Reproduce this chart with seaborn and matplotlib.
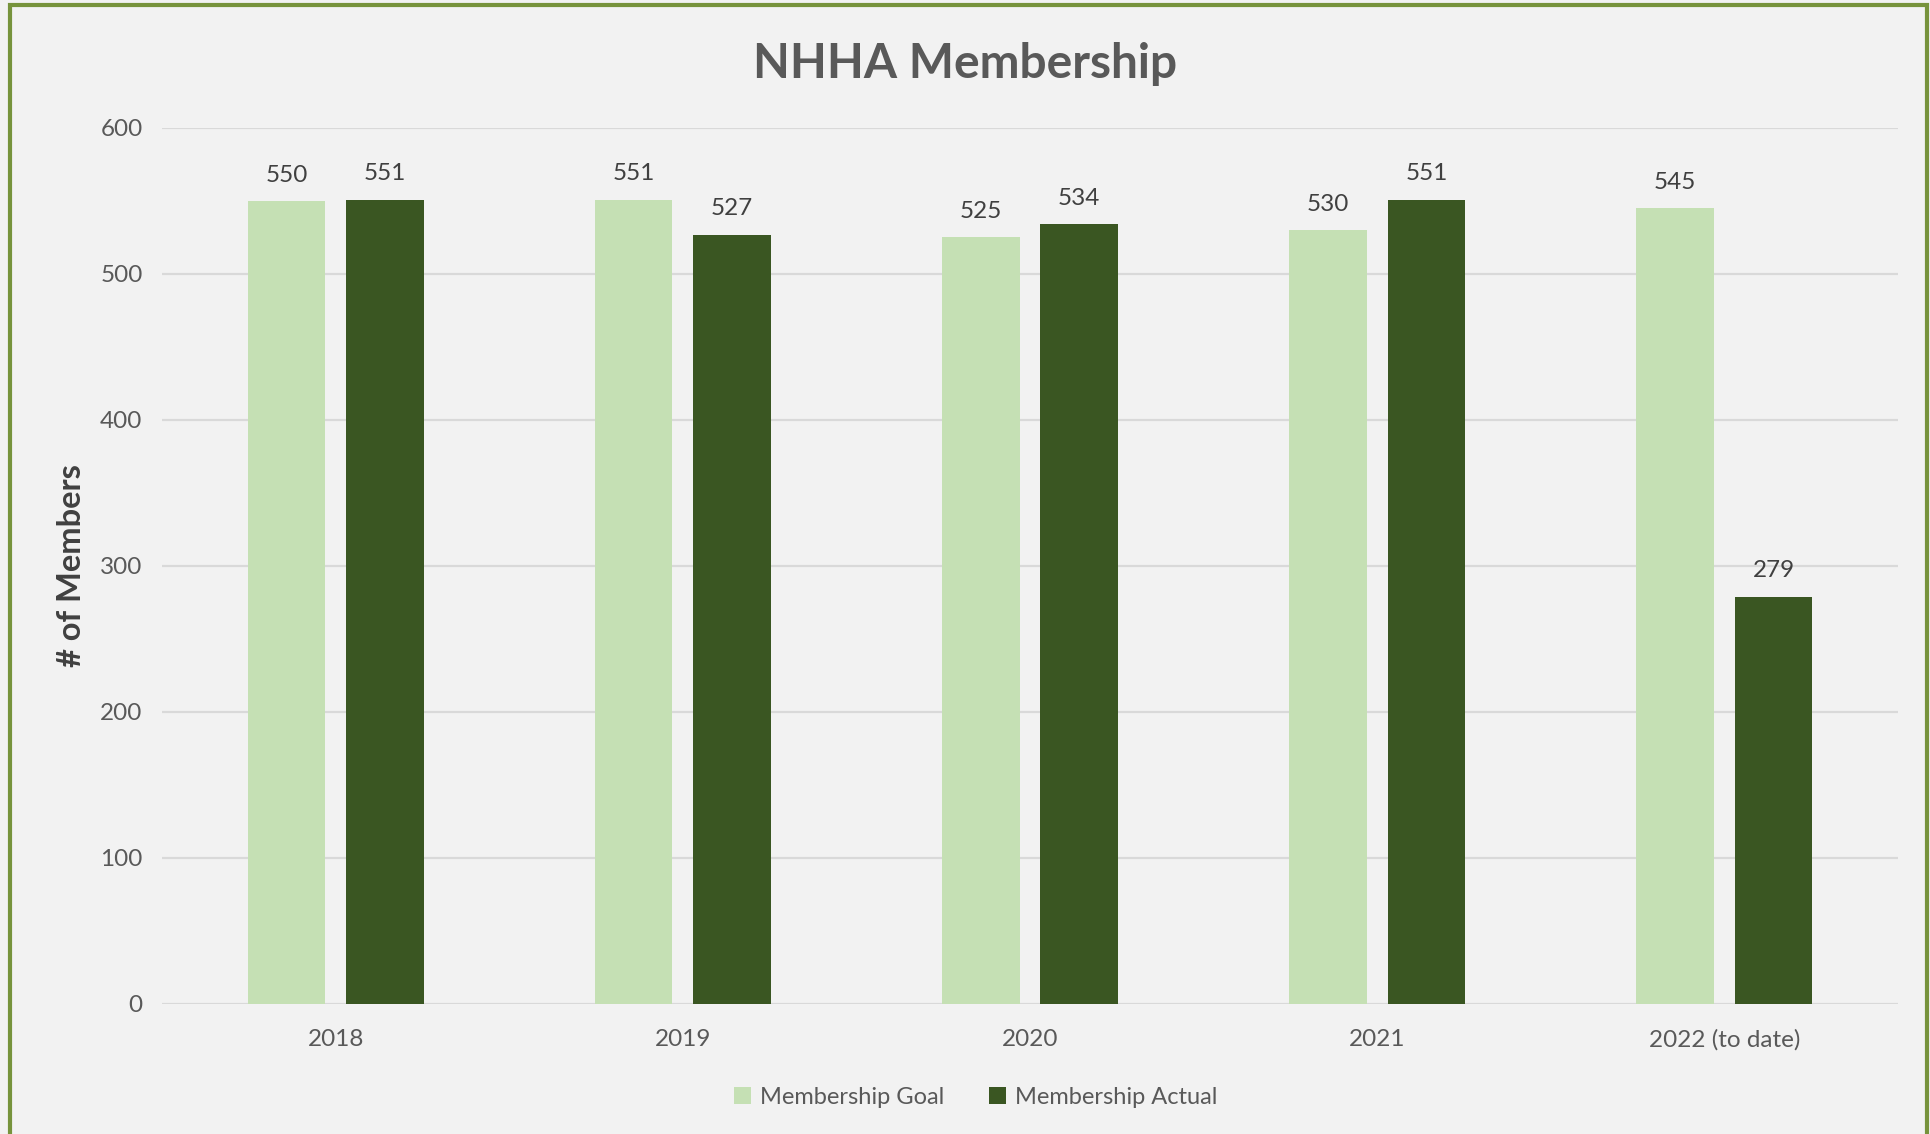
import pandas as pd
import matplotlib.pyplot as plt
import seaborn as sns
from matplotlib.patches import Rectangle

years = ["2018", "2019", "2020", "2021", "2022 (to date)"]
goal = [550, 551, 525, 530, 545]
actual = [551, 527, 534, 551, 279]
series = ["Membership Goal", "Membership Actual"]
colors = ["#c5e0b4", "#3a5622"]

df = pd.DataFrame({
    "Year": years * 2,
    "Members": goal + actual,
    "Series": [series[0]] * len(years) + [series[1]] * len(years),
})

sns.set_theme(style="white")
plt.rcParams["font.family"] = ["Lato", "DejaVu Sans"]

bg = "#f2f2f2"
fig = plt.figure(figsize=(19.3, 11.34), dpi=100, facecolor=bg)
ax = fig.add_axes([162 / 1930, 1 - 1004 / 1134, (1898 - 162) / 1930, (1004 - 128) / 1134])
ax.set_facecolor(bg)

sns.barplot(
    data=df, x="Year", y="Members", hue="Series",
    palette=colors, width=0.567, gap=0.21, ax=ax, saturation=1,
    linewidth=0, legend=True,
)

for cont in ax.containers:
    ax.bar_label(cont, fmt="%d", padding=11, fontsize=17.5, color="#404040")

ax.set_ylim(0, 600)
ax.set_xlim(-0.5, len(years) - 0.5)
ax.set_yticks(range(0, 601, 100))
ax.yaxis.grid(True, color="#d9d9d9", linewidth=1.6)
ax.set_axisbelow(True)
for s in ax.spines.values():
    s.set_visible(False)
ax.tick_params(axis="both", length=0, labelsize=17.5, labelcolor="#595959")
ax.tick_params(axis="x", pad=18)
ax.tick_params(axis="y", pad=14)
ax.set_xlabel("")
ax.set_ylabel("# of Members", fontsize=23.5, fontweight="bold", color="#404040", labelpad=10)

fig.suptitle("NHHA Membership", y=1 - 64 / 1134, va="center", fontsize=34.5,
             fontweight="bold", color="#595959")

handles, labels = ax.get_legend_handles_labels()
ax.legend_.remove()
fig.legend(handles, labels, loc="center", bbox_to_anchor=(976 / 1930, 1 - 1097 / 1134),
           ncol=2, frameon=False, fontsize=17, labelcolor="#595959",
           handlelength=0.7, handleheight=0.7, handletextpad=0.4, columnspacing=1.9)

fig.patches.append(Rectangle((10 / 1930, -0.01), (1927 - 10) / 1930, 1.01 - 5 / 1134,
                             transform=fig.transFigure, fill=False,
                             edgecolor="#77933c", linewidth=3))

fig.savefig("out.png", dpi=100, facecolor=bg)
